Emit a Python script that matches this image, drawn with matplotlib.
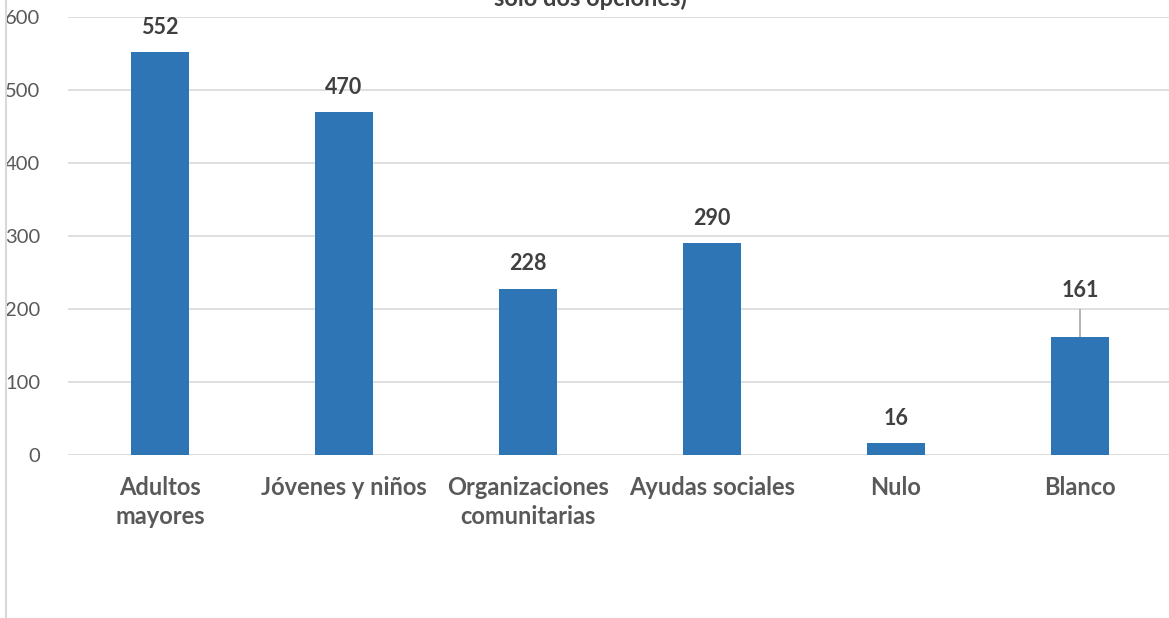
import matplotlib.pyplot as plt
from matplotlib.lines import Line2D

categorias = ['Adultos\nmayores', 'Jóvenes y niños', 'Organizaciones\ncomunitarias',
              'Ayudas sociales', 'Nulo', 'Blanco']
valores = [552, 470, 228, 290, 16, 161]
titulo = 'solo dos opciones)'

plt.rcParams['font.family'] = ['Lato', 'DejaVu Sans']

fig = plt.figure(figsize=(11.69, 6.18), dpi=100)
ax = fig.add_axes([68 / 1169, 1 - 455 / 618, 1104 / 1169, (455 - 17) / 618])

x = range(len(valores))
ax.bar(x, valores, width=0.315, color='#2E75B6', zorder=3)

for i, v in enumerate(valores):
    if v == 161:
        # etiqueta desplazada con linea guia
        ax.plot([i, i], [v, 198], color='#A6A6A6', lw=1.2, zorder=2)
        ax.text(i, 225, str(v), ha='center', va='center', fontsize=15.5,
                fontweight='bold', color='#404040')
    else:
        ax.text(i, v + 34, str(v), ha='center', va='center', fontsize=15.5,
                fontweight='bold', color='#404040')

ax.set_xlim(-0.5, 5.5)
ax.set_ylim(0, 600)
ax.set_yticks(range(0, 601, 100))
ax.yaxis.grid(True, color='#D9D9D9', lw=1.2, zorder=0)
ax.set_xticks(list(x))
ax.set_xticklabels(categorias, fontsize=17, fontweight='bold', color='#595959',
                   linespacing=1.3)
for s in ax.spines.values():
    s.set_visible(False)
ax.tick_params(axis='x', length=0, pad=15)
ax.tick_params(axis='y', length=0, pad=20, labelsize=14.5, labelcolor='#595959')

fig.text(0.505, 1 - 6 / 618, titulo, ha='center', va='baseline', fontsize=17,
         fontweight='bold', color='#404040')
fig.add_artist(Line2D([6 / 1169, 6 / 1169], [0, 1], color='#D9D9D9', lw=1.5,
                      transform=fig.transFigure))

fig.savefig('out.png', dpi=100)
